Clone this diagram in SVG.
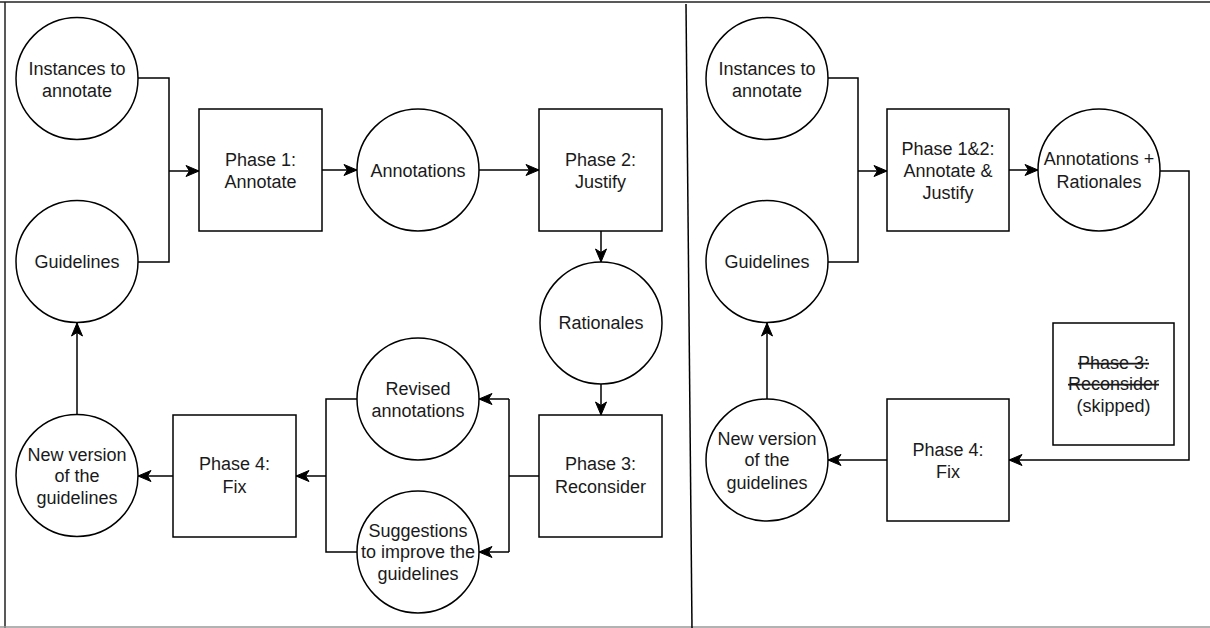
<svg xmlns="http://www.w3.org/2000/svg" width="1210" height="628" viewBox="0 0 1210 628">
<style>
.n{fill:#fff;stroke:#000;stroke-width:1.5}
.t{font-family:"Liberation Sans",Arial,sans-serif;font-size:18px;fill:#1a1a1a;text-anchor:middle}
.c{fill:none;stroke:#000;stroke-width:1.5}
.a{marker-end:url(#ah)}
.s{text-decoration:line-through}
</style>
<defs>
<marker id="ah" markerUnits="userSpaceOnUse" markerWidth="16" markerHeight="12" viewBox="-14 -6 16 12" refX="0" refY="0" orient="auto">
<path d="M0,0 L-13,-5.5 L-9.5,0 L-13,5.5 Z" fill="#000" stroke="#000" stroke-width="1"/>
</marker>
</defs>
<rect width="1210" height="628" fill="#fff"/>
<g id="frame">
<line x1="0" y1="2" x2="1210" y2="2" stroke="#222" stroke-width="1.5"/>
<line x1="5" y1="2" x2="5" y2="628" stroke="#222" stroke-width="1.5"/>
<line x1="0" y1="627" x2="1210" y2="627" stroke="#999" stroke-width="1.5"/>
<line x1="686" y1="4" x2="692" y2="628" stroke="#000" stroke-width="1.5"/>
</g>
<g id="connectors">
<path class="c" d="M138,78 H169 V262 H138"/>
<path class="c a" d="M169,171 H199"/>
<path class="c a" d="M322,170 H357"/>
<path class="c a" d="M479,170 H539"/>
<path class="c a" d="M601,231 V262"/>
<path class="c a" d="M601,384 V415"/>
<path class="c" d="M539,476 H509 M509,399 V552"/>
<path class="c a" d="M509,399 H479"/>
<path class="c a" d="M509,552 H479"/>
<path class="c" d="M357,399 H326 V552 H357"/>
<path class="c a" d="M326,476 H296"/>
<path class="c a" d="M173,476 H138"/>
<path class="c a" d="M77,414 V323"/>
<path class="c" d="M828,78 H858 V262 H828"/>
<path class="c a" d="M858,171 H887"/>
<path class="c a" d="M1009,170 H1038"/>
<path class="c a" d="M1160,171 H1189 V460 H1009"/>
<path class="c a" d="M887,460 H828"/>
<path class="c a" d="M767,399 V323"/>
</g>
<g id="l-instances"><circle class="n" cx="77" cy="78.5" r="61"/><text class="t" x="77" y="74.5">Instances to</text><text class="t" x="77" y="96.5">annotate</text></g>
<g id="l-guidelines"><circle class="n" cx="77" cy="261.5" r="61"/><text class="t" x="77" y="268">Guidelines</text></g>
<g id="l-phase1"><rect class="n" x="199" y="109" width="123" height="122"/><text class="t" x="260.5" y="166">Phase 1:</text><text class="t" x="260.5" y="188">Annotate</text></g>
<g id="l-annotations"><circle class="n" cx="418" cy="170" r="61"/><text class="t" x="418" y="176.5">Annotations</text></g>
<g id="l-phase2"><rect class="n" x="539" y="109" width="123" height="122"/><text class="t" x="600.5" y="166">Phase 2:</text><text class="t" x="600.5" y="188">Justify</text></g>
<g id="l-rationales"><circle class="n" cx="601" cy="323" r="61"/><text class="t" x="601" y="328.5">Rationales</text></g>
<g id="l-phase3"><rect class="n" x="539" y="415" width="123" height="122"/><text class="t" x="600.5" y="470">Phase 3:</text><text class="t" x="600.5" y="493">Reconsider</text></g>
<g id="l-revised"><circle class="n" cx="418" cy="399" r="61"/><text class="t" x="418" y="394.5">Revised</text><text class="t" x="418" y="416.5">annotations</text></g>
<g id="l-suggestions"><circle class="n" cx="418" cy="552" r="61"/><text class="t" x="418" y="536.5">Suggestions</text><text class="t" x="418" y="558">to improve the</text><text class="t" x="418" y="580">guidelines</text></g>
<g id="l-phase4"><rect class="n" x="173" y="415" width="123" height="122"/><text class="t" x="234.5" y="469.5">Phase 4:</text><text class="t" x="234.5" y="493">Fix</text></g>
<g id="l-newversion"><circle class="n" cx="77" cy="475.5" r="61"/><text class="t" x="77" y="460.5">New version</text><text class="t" x="77" y="482">of the</text><text class="t" x="77" y="504">guidelines</text></g>
<g id="r-instances"><circle class="n" cx="767" cy="78.5" r="61"/><text class="t" x="767" y="74.5">Instances to</text><text class="t" x="767" y="96.5">annotate</text></g>
<g id="r-guidelines"><circle class="n" cx="767" cy="261.5" r="61"/><text class="t" x="767" y="268">Guidelines</text></g>
<g id="r-phase12"><rect class="n" x="887" y="109" width="122" height="122"/><text class="t" x="948" y="154.5">Phase 1&amp;2:</text><text class="t" x="948" y="176.5">Annotate &amp;</text><text class="t" x="948" y="198.5">Justify</text></g>
<g id="r-annrat"><circle class="n" cx="1099" cy="170" r="61"/><text class="t" x="1099" y="165">Annotations +</text><text class="t" x="1099" y="187.5">Rationales</text></g>
<g id="r-phase3"><rect class="n" x="1053" y="323" width="121" height="122"/><text class="t s" x="1113.5" y="369">Phase 3:</text><text class="t s" x="1113.5" y="390">Reconsider</text><text class="t" x="1113.5" y="412">(skipped)</text></g>
<g id="r-phase4"><rect class="n" x="887" y="399" width="122" height="122"/><text class="t" x="948" y="455.5">Phase 4:</text><text class="t" x="948" y="478">Fix</text></g>
<g id="r-newversion"><circle class="n" cx="767" cy="460" r="61"/><text class="t" x="767" y="444.5">New version</text><text class="t" x="767" y="466">of the</text><text class="t" x="767" y="488.5">guidelines</text></g>
</svg>
